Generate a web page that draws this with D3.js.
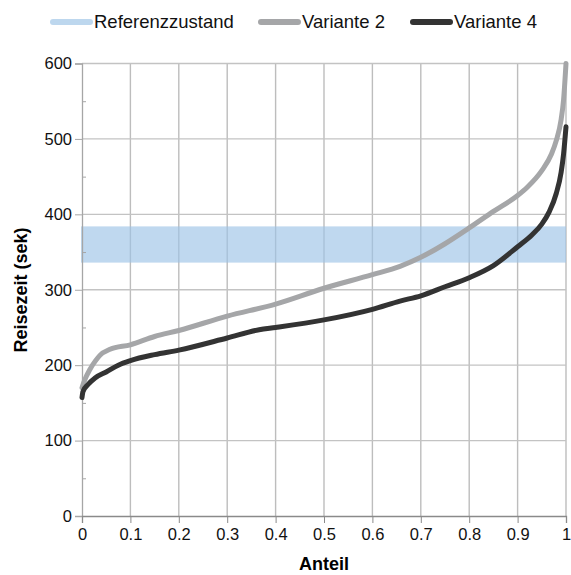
<!DOCTYPE html>
<html>
<head>
<meta charset="utf-8">
<script src="https://cdn.jsdelivr.net/npm/d3@7"></script>
<style>
  body { margin: 0; background: #fff; }
  text { font-family: "Liberation Sans", Arial, sans-serif; }
</style>
</head>
<body>
<div id="chart"></div>
<script>
// Set up chart
var svgWidth = 571;
var svgHeight = 575;
var margin = {top: 63.5, right: 5, bottom: 59, left: 82};
var width = svgWidth - margin.left - margin.right;
var height = svgHeight - margin.top - margin.bottom;

// data
var seriesNames = ["Referenzzustand", "Variante 2", "Variante 4"];
var refBand = [336, 384];

var anteilV2 = [0, 0.006, 0.016, 0.027, 0.037, 0.058, 0.1, 0.15, 0.2, 0.3, 0.4, 0.5, 0.6, 0.657,
  0.7, 0.75, 0.8, 0.85, 0.9, 0.92, 0.95, 0.97, 0.98, 0.99, 0.995, 1];
var zeitV2 = [170, 181, 194, 205, 213, 221, 227, 238, 246, 265, 281, 302, 320, 331,
  343, 361, 382, 404, 425, 436, 458, 480, 498, 526, 552, 600];

var anteilV4 = [0, 0.002, 0.012, 0.027, 0.05, 0.075, 0.1, 0.15, 0.2, 0.3, 0.366, 0.4, 0.5, 0.6, 0.657,
  0.7, 0.75, 0.8, 0.85, 0.9, 0.93, 0.95, 0.965, 0.98, 0.99, 0.995, 1];
var zeitV4 = [157, 165, 174, 183, 191, 200, 206, 214, 220, 236, 247, 250, 260, 274, 285,
  292, 304, 316, 332, 357, 373, 387, 403, 428, 456, 480, 516];

var xTicks = [0, 0.1, 0.2, 0.3, 0.4, 0.5, 0.6, 0.7, 0.8, 0.9, 1];
var yTicks = [0, 100, 200, 300, 400, 500, 600];
var yMinorTicks = [50, 150, 250, 350, 450, 550];

var colors = ["#9dc3e6", "#a5a6a8", "#333333"];

var svg = d3.select("#chart")
  .append("svg")
  .attr("width", svgWidth)
  .attr("height", svgHeight);

var chartGroup = svg.append("g")
  .attr("transform", `translate(${margin.left}, ${margin.top})`);

var xScale = d3.scaleLinear().domain([0, 1]).range([0, width]);
var yScale = d3.scaleLinear().domain([0, 600]).range([height, 0]);

// grid lines
chartGroup.append("g")
  .selectAll("line.vgrid")
  .data(xTicks.slice(1))
  .enter()
  .append("line")
  .attr("x1", d => xScale(d))
  .attr("x2", d => xScale(d))
  .attr("y1", 0)
  .attr("y2", height)
  .attr("stroke", "#bdbdbd")
  .attr("stroke-width", 1.4);

chartGroup.append("g")
  .selectAll("line.hgrid")
  .data(yTicks.slice(1))
  .enter()
  .append("line")
  .attr("x1", 0)
  .attr("x2", width)
  .attr("y1", d => yScale(d))
  .attr("y2", d => yScale(d))
  .attr("stroke", "#c3c3c3")
  .attr("stroke-width", 1.3);

// reference band
chartGroup.append("rect")
  .attr("x", xScale(0) - 1)
  .attr("width", xScale(1) - xScale(0) + 1)
  .attr("y", yScale(refBand[1]))
  .attr("height", yScale(refBand[0]) - yScale(refBand[1]))
  .attr("fill", colors[0])
  .attr("opacity", 0.65);

// y axis
var leftAxis = d3.axisLeft(yScale).tickValues(yTicks).tickSize(7).tickPadding(3);
var yAxis = chartGroup.append("g").call(leftAxis);
yAxis.select(".domain").attr("stroke", "#a6a6a6").attr("stroke-width", 1.3);
yAxis.selectAll(".tick line").attr("stroke", "#a6a6a6");
yAxis.selectAll("text")
  .attr("font-size", "16.5px")
  .attr("fill", "#111")
  .attr("font-family", "'Liberation Sans', Arial, sans-serif");

var rightMinor = d3.axisRight(yScale).tickValues(yMinorTicks).tickSize(4).tickFormat("");
var yMinor = chartGroup.append("g").call(rightMinor);
yMinor.select(".domain").remove();
yMinor.selectAll(".tick line").attr("stroke", "#a6a6a6");

// x axis
var bottomAxis = d3.axisBottom(xScale).tickValues(xTicks).tickSize(7).tickPadding(5)
  .tickFormat(d => d === 0 || d === 1 ? d3.format("d")(d) : d3.format(".1f")(d));
var xAxis = chartGroup.append("g")
  .attr("transform", `translate(0, ${height})`)
  .call(bottomAxis);
xAxis.select(".domain").attr("stroke", "#8a8a8a").attr("stroke-width", 1.3);
xAxis.selectAll(".tick line").attr("stroke", "#8a8a8a");
xAxis.selectAll("text")
  .attr("font-size", "16.5px")
  .attr("fill", "#111")
  .attr("font-family", "'Liberation Sans', Arial, sans-serif");

// curves
var line = d3.line()
  .x(d => xScale(d[0]))
  .y(d => yScale(d[1]))
  .curve(d3.curveMonotoneX);

var v2 = anteilV2.map((a, i) => [a, zeitV2[i]]);
var v4 = anteilV4.map((a, i) => [a, zeitV4[i]]);

chartGroup.append("path")
  .datum(v2)
  .attr("d", line)
  .attr("fill", "none")
  .attr("stroke", colors[1])
  .attr("stroke-width", 5)
  .attr("stroke-linejoin", "round")
  .attr("stroke-linecap", "round");

chartGroup.append("path")
  .datum(v4)
  .attr("d", line)
  .attr("fill", "none")
  .attr("stroke", colors[2])
  .attr("stroke-width", 5)
  .attr("stroke-linejoin", "round")
  .attr("stroke-linecap", "round");

// axis titles
svg.append("text")
  .attr("transform", "translate(27, 290) rotate(-90)")
  .attr("text-anchor", "middle")
  .attr("font-size", "18px")
  .attr("font-weight", "bold")
  .text("Reisezeit (sek)");

svg.append("text")
  .attr("x", margin.left + width / 2)
  .attr("y", 570)
  .attr("text-anchor", "middle")
  .attr("font-size", "18px")
  .attr("font-weight", "bold")
  .text("Anteil");

// legend
var legendX = [50, 258, 410];
var legend = svg.append("g");
seriesNames.forEach(function(name, i) {
  legend.append("line")
    .attr("x1", legendX[i] + 3)
    .attr("x2", legendX[i] + 40)
    .attr("y1", 22)
    .attr("y2", 22)
    .attr("stroke", i === 0 ? "#bdd7ee" : colors[i])
    .attr("stroke-width", 6)
    .attr("stroke-linecap", "round");
  legend.append("text")
    .attr("x", legendX[i] + 44)
    .attr("y", 22)
    .attr("dy", "0.35em")
    .attr("font-size", "18.5px")
    .attr("fill", "#111")
    .text(name);
});
</script>
</body>
</html>
